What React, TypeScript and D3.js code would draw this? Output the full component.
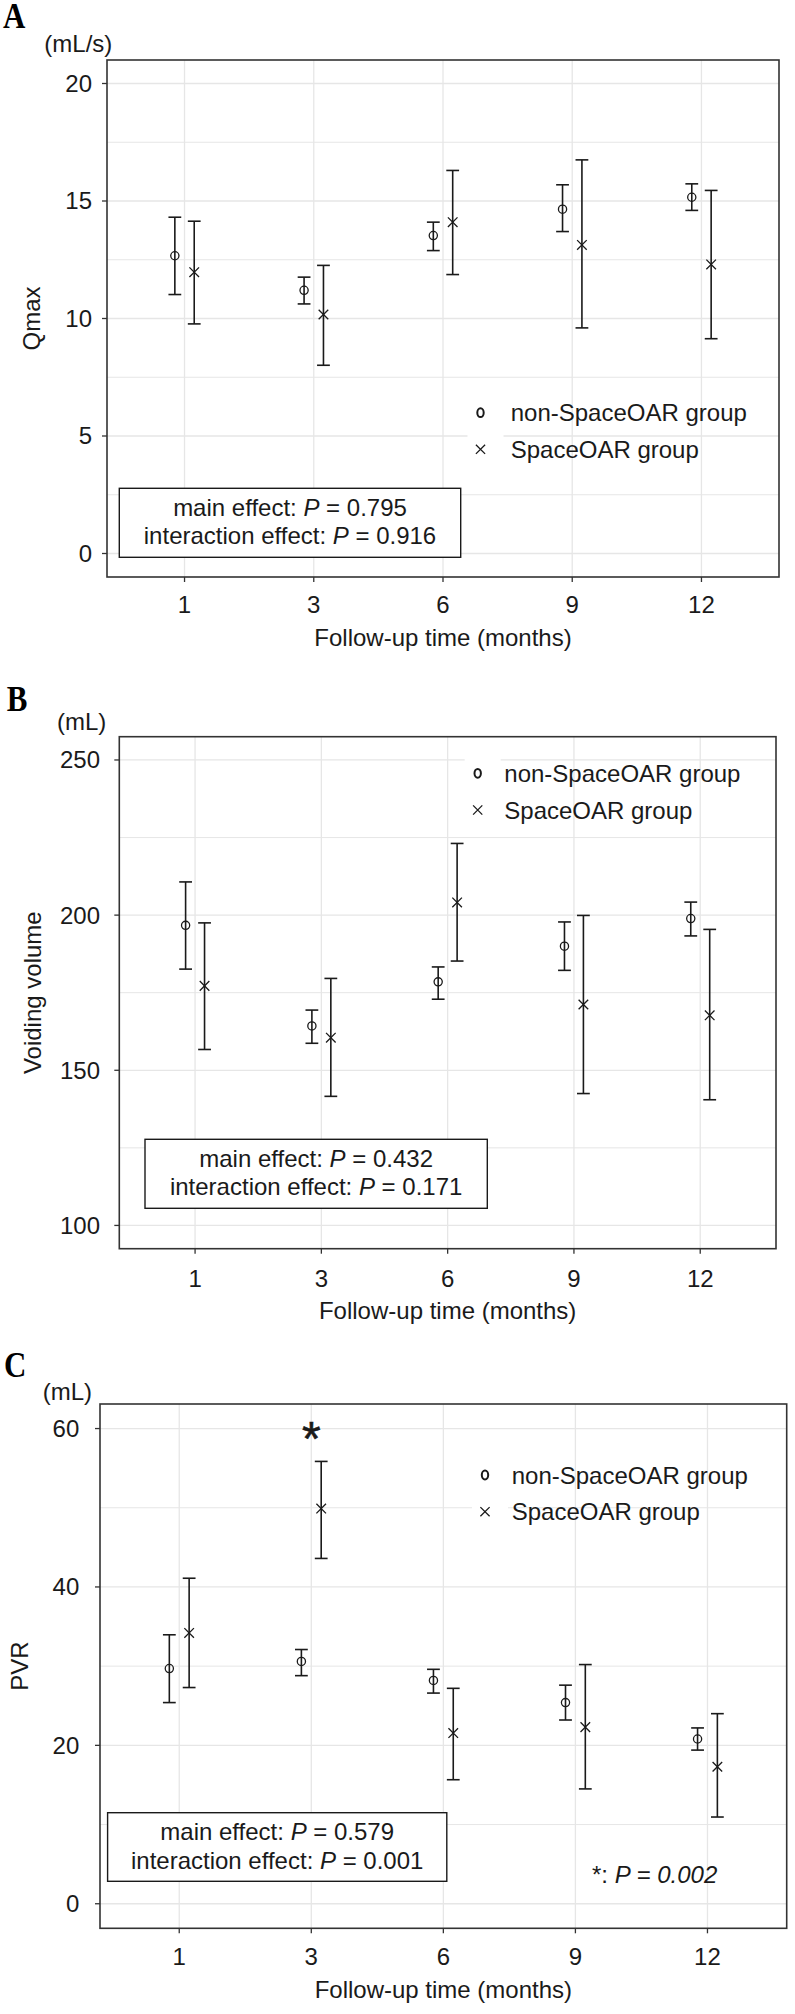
import React from "react";
import * as d3 from "d3";

// ---------- data ----------
const months = ["1", "3", "6", "9", "12"];

// Panel A: Qmax (mL/s)
const qmaxNonMean = [12.67, 11.2, 13.53, 14.65, 15.16];
const qmaxNonLow = [11.02, 10.62, 12.89, 13.7, 14.6];
const qmaxNonHigh = [14.31, 11.76, 14.1, 15.69, 15.73];
const qmaxSpMean = [11.97, 10.17, 14.1, 13.13, 12.3];
const qmaxSpLow = [9.77, 8.01, 11.87, 9.6, 9.14];
const qmaxSpHigh = [14.14, 12.26, 16.3, 16.75, 15.45];
const qmaxTicks = [0, 5, 10, 15, 20];
const qmaxMinor = [2.5, 7.5, 12.5, 17.5];

// Panel B: Voiding volume (mL)
const vvNonMean = [196.7, 164.3, 178.5, 190, 198.9];
const vvNonLow = [182.6, 158.7, 172.9, 182.2, 193.3];
const vvNonHigh = [210.7, 169.4, 183.3, 197.8, 204.2];
const vvSpMean = [177.2, 160.5, 204.1, 171.2, 167.7];
const vvSpLow = [156.7, 141.6, 185.2, 142.5, 140.5];
const vvSpHigh = [197.5, 179.6, 223.1, 199.9, 195.4];
const vvTicks = [100, 150, 200, 250];
const vvMinor = [125, 175, 225];

// Panel C: PVR (mL)
const pvrNonMean = [29.7, 30.6, 28.2, 25.4, 20.8];
const pvrNonLow = [25.4, 28.8, 26.6, 23.2, 19.4];
const pvrNonHigh = [33.96, 32.1, 29.6, 27.6, 22.2];
const pvrSpMean = [34.2, 49.9, 21.55, 22.3, 17.3];
const pvrSpLow = [27.3, 43.6, 15.66, 14.5, 10.95];
const pvrSpHigh = [41.1, 55.85, 27.2, 30.2, 24.0];
const pvrTicks = [0, 20, 40, 60];
const pvrMinor = [10, 30, 50];

const legendLabels = ["non-SpaceOAR group", "SpaceOAR group"];
const xTitle = "Follow-up time (months)";

// ---------- layout ----------
const panels = [
  {
    letter: "A", unit: "(mL/s)", yTitle: "Qmax",
    non: [qmaxNonMean, qmaxNonLow, qmaxNonHigh], sp: [qmaxSpMean, qmaxSpLow, qmaxSpHigh],
    ticks: qmaxTicks, minor: qmaxMinor, domain: [-1, 21],
    stats: ["0.795", "0.916"],
    frame: { x0: 107, x1: 779, y0: 60, y1: 577 },
    letterPos: [3, 27.7], unitPos: [44.3, 51.7], yTitleX: 40, tickRight: 92,
    xLabelY: 613, xTitleY: 646,
    legend: { x: 480.5, y1: 412.7, y2: 449.3, tx: 510.7 },
    box: { x: 119.3, y: 488.3, w: 341.4, h: 69 },
  },
  {
    letter: "B", unit: "(mL)", yTitle: "Voiding volume",
    non: [vvNonMean, vvNonLow, vvNonHigh], sp: [vvSpMean, vvSpLow, vvSpHigh],
    ticks: vvTicks, minor: vvMinor, domain: [92.5, 257.5],
    stats: ["0.432", "0.171"],
    frame: { x0: 119.3, x1: 776, y0: 736.7, y1: 1248.7 },
    letterPos: [6.7, 711], unitPos: [57, 730], yTitleX: 41, tickRight: 100,
    xLabelY: 1287, xTitleY: 1319,
    legend: { x: 477.7, y1: 773.3, y2: 810, tx: 504.3 },
    box: { x: 145, y: 1139.3, w: 342.3, h: 69 },
  },
  {
    letter: "C", unit: "(mL)", yTitle: "PVR",
    non: [pvrNonMean, pvrNonLow, pvrNonHigh], sp: [pvrSpMean, pvrSpLow, pvrSpHigh],
    ticks: pvrTicks, minor: pvrMinor, domain: [-3.1, 63.1],
    stats: ["0.579", "0.001"],
    frame: { x0: 100, x1: 786.7, y0: 1404, y1: 1928.3 },
    letterPos: [4, 1376.7], unitPos: [42.7, 1400], yTitleX: 28, tickRight: 79.3,
    xLabelY: 1965, xTitleY: 1997.7,
    legend: { x: 485, y1: 1475, y2: 1511.7, tx: 511.7 },
    box: { x: 107.6, y: 1812.7, w: 339.2, h: 68.6 },
    star: { month: "3", p: "0.002", px: 592, py: 1883 },
  },
];

const FONT = "'Liberation Sans', Arial, Helvetica, sans-serif";
const INK = "#1a1a1a";
const GRID = "#e6e6e6";

function Panel({ p }: { p: any }) {
  const f = p.frame;
  const x = d3.scalePoint<string>().domain(months).range([f.x0, f.x1]).padding(0.6);
  const y = d3.scaleLinear().domain(p.domain).range([f.y1, f.y0]);
  const step = x.step();
  const dodge = step * 0.075;
  const cap = 6.4;
  const cy = (f.y0 + f.y1) / 2;
  const cx = (f.x0 + f.x1) / 2;

  const series = [
    { vals: p.non, off: -dodge, shape: "circle" },
    { vals: p.sp, off: dodge, shape: "cross" },
  ];

  return (
    <g>
      {/* panel letter */}
      <text
        transform={`translate(${p.letterPos[0]},${p.letterPos[1]}) scale(0.86,1)`}
        fontFamily="'Liberation Serif', 'Times New Roman', serif"
        fontWeight="bold" fontSize={36} fill="#000"
      >{p.letter}</text>
      <text x={p.unitPos[0]} y={p.unitPos[1]} fontFamily={FONT} fontSize={24} fill={INK}>{p.unit}</text>

      {/* grid */}
      <rect x={f.x0} y={f.y0} width={f.x1 - f.x0} height={f.y1 - f.y0} fill="#fff" />
      {p.minor.map((v: number) => (
        <line key={"mn" + v} x1={f.x0} x2={f.x1} y1={y(v)} y2={y(v)} stroke={GRID} strokeWidth={1} />
      ))}
      {p.ticks.map((v: number) => (
        <line key={"mj" + v} x1={f.x0} x2={f.x1} y1={y(v)} y2={y(v)} stroke={GRID} strokeWidth={1.3} />
      ))}
      {months.map((m) => (
        <line key={"vg" + m} x1={x(m)} x2={x(m)} y1={f.y0} y2={f.y1} stroke={GRID} strokeWidth={1.3} />
      ))}

      {/* legend keys (white background) */}
      <rect x={p.legend.x - 13} y={p.legend.y1 - 18.3} width={36} height={36.6} fill="#fff" />
      <rect x={p.legend.x - 13} y={p.legend.y2 - 18.3} width={36} height={36.6} fill="#fff" />

      {/* stats box */}
      <rect x={p.box.x} y={p.box.y} width={p.box.w} height={p.box.h} fill="#fff" stroke={INK} strokeWidth={1.4} />
      <text x={p.box.x + p.box.w / 2} y={p.box.y + 27.5} textAnchor="middle" fontFamily={FONT} fontSize={24} fill={INK}>
        main effect: <tspan fontStyle="italic">P</tspan> = {p.stats[0]}
      </text>
      <text x={p.box.x + p.box.w / 2} y={p.box.y + 56} textAnchor="middle" fontFamily={FONT} fontSize={24} fill={INK}>
        interaction effect: <tspan fontStyle="italic">P</tspan> = {p.stats[1]}
      </text>

      {/* data */}
      {series.map((s, si) =>
        months.map((m, i) => {
          const px = (x(m) as number) + s.off;
          const mean = s.vals[0][i], lo = s.vals[1][i], hi = s.vals[2][i];
          return (
            <g key={si + "-" + m} stroke={INK} fill="none">
              <line x1={px} x2={px} y1={y(lo)} y2={y(hi)} strokeWidth={1.6} />
              <line x1={px - cap} x2={px + cap} y1={y(hi)} y2={y(hi)} strokeWidth={1.6} />
              <line x1={px - cap} x2={px + cap} y1={y(lo)} y2={y(lo)} strokeWidth={1.6} />
              {s.shape === "circle" ? (
                <circle cx={px} cy={y(mean)} r={4.1} strokeWidth={1.3} />
              ) : (
                <path
                  d={`M${px - 4.8},${y(mean) - 4.8}L${px + 4.8},${y(mean) + 4.8}M${px - 4.8},${y(mean) + 4.8}L${px + 4.8},${y(mean) - 4.8}`}
                  strokeWidth={1.3}
                />
              )}
            </g>
          );
        })
      )}

      {/* asterisk */}
      {p.star && (
        <>
          <text x={x(p.star.month)} y={y(p.domain[1]) + 51} textAnchor="middle" fontFamily={FONT} fontSize={48}
            fill={INK} stroke={INK} strokeWidth={0.6}>*</text>
          <text x={p.star.px} y={p.star.py} fontFamily={FONT} fontSize={24} fill={INK}>
            *: <tspan fontStyle="italic">P</tspan><tspan fontStyle="italic"> = {p.star.p}</tspan>
          </text>
        </>
      )}

      {/* legend */}
      <ellipse cx={p.legend.x} cy={p.legend.y1} rx={3.2} ry={4.4} fill="none" stroke={INK} strokeWidth={2} />
      <path
        d={`M${p.legend.x - 4.6},${p.legend.y2 - 4.6}L${p.legend.x + 4.6},${p.legend.y2 + 4.6}M${p.legend.x - 4.6},${p.legend.y2 + 4.6}L${p.legend.x + 4.6},${p.legend.y2 - 4.6}`}
        stroke={INK} strokeWidth={1.3} fill="none"
      />
      <text x={p.legend.tx} y={p.legend.y1 + 8.5} fontFamily={FONT} fontSize={24} fill={INK}>{legendLabels[0]}</text>
      <text x={p.legend.tx} y={p.legend.y2 + 8.5} fontFamily={FONT} fontSize={24} fill={INK}>{legendLabels[1]}</text>

      {/* frame */}
      <rect x={f.x0} y={f.y0} width={f.x1 - f.x0} height={f.y1 - f.y0} fill="none" stroke="#333" strokeWidth={1.6} />

      {/* y axis */}
      {p.ticks.map((v: number) => (
        <g key={"yt" + v}>
          <line x1={f.x0 - 5} x2={f.x0} y1={y(v)} y2={y(v)} stroke="#333" strokeWidth={1.3} />
          <text x={p.tickRight} y={y(v) + 8.4} textAnchor="end" fontFamily={FONT} fontSize={24} fill={INK}>{v}</text>
        </g>
      ))}
      <text
        transform={`translate(${p.yTitleX},${cy}) rotate(-90)`}
        textAnchor="middle" fontFamily={FONT} fontSize={24} fill={INK}
      >{p.yTitle}</text>

      {/* x axis */}
      {months.map((m) => (
        <g key={"xt" + m}>
          <line x1={x(m)} x2={x(m)} y1={f.y1} y2={f.y1 + 5} stroke="#333" strokeWidth={1.3} />
          <text x={x(m)} y={p.xLabelY} textAnchor="middle" fontFamily={FONT} fontSize={24} fill={INK}>{m}</text>
        </g>
      ))}
      <text x={cx} y={p.xTitleY} textAnchor="middle" fontFamily={FONT} fontSize={24} fill={INK}>{xTitle}</text>
    </g>
  );
}

export default function App() {
  return (
    <svg
      width={795}
      height={2014}
      viewBox="0 0 795 2014"
      style={{ position: "absolute", left: 0, top: 0, background: "#fff" }}
    >
      <rect x={0} y={0} width={795} height={2014} fill="#fff" />
      {panels.map((p) => (
        <Panel key={p.letter} p={p} />
      ))}
    </svg>
  );
}
